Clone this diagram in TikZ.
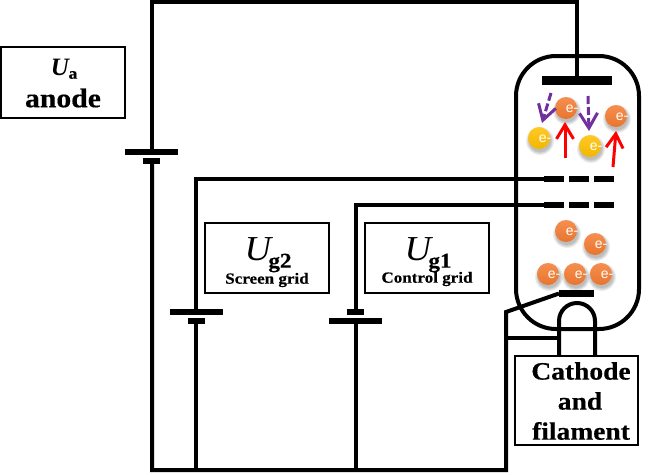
\documentclass[tikz,border=0pt]{standalone}
\usepackage{fontspec}
\setmainfont{Liberation Serif}[BoldFeatures={FakeStretch=1.1,FakeBold=0.4},ItalicFeatures={FakeStretch=1.05}]
\newfontfamily\efont{Liberation Sans}
\usetikzlibrary{arrows.meta}
\definecolor{orangeball}{HTML}{F47B30}
\definecolor{yellowball}{HTML}{FFC000}
\definecolor{purplearrow}{HTML}{7030A0}
\newcommand{\fs}[1]{\fontsize{#1}{#1}\selectfont}
\tikzset{
  x=1pt,y=-1pt,
  wire/.style={draw=black,line width=4pt,line cap=butt,line join=miter},
  plate/.style={fill=black,inner sep=0pt,outer sep=0pt,minimum height=6pt,rectangle},
  longplate/.style={plate,minimum width=53pt},
  shortplate/.style={plate,minimum width=17pt},
  gridbar/.style={plate,minimum width=20pt,minimum height=6pt},
  labelbox/.style={draw=black,line width=2pt,inner sep=0pt,outer sep=0pt,rectangle},
  lab/.style={inner sep=0pt,font=\bfseries,align=center},
  ballshadow/.style={circle,fill=black,opacity=0.07,minimum size=#1,inner sep=0pt},
  redarrow/.style={draw=red,line width=3pt,-{Straight Barb[length=14pt,width=17pt,line width=3pt]}},
  purplearr/.style={draw=purplearrow,line width=3pt,dash pattern=on 8pt off 3pt,-{Straight Barb[length=15pt,width=18pt,line width=3pt]}},
}
\newcommand{\ball}[4]{%
  \foreach \s in {22pt,24pt,26pt,28pt}{\node[ballshadow=\s] at (#1+1,#2+3) {};}
  \node[circle,minimum size=22pt,inner sep=0pt,top color=#3!85!white,bottom color=#3!95!black] (#4) at (#1,#2) {};
  \node[inner sep=0pt,text=white,font=\efont\fs{14}] at (#1+6,#2+1) {e-};
}
\begin{document}
\begin{tikzpicture}
\useasboundingbox[fill=white] (0,0) rectangle (652,474);
% tube
\draw[line width=4pt,rounded corners=40pt] (516,56) rectangle (639,329);
% label boxes
\node[labelbox,minimum width=124pt,minimum height=71pt] (boxa) at (63,82.5) {};
\node[labelbox,minimum width=124pt,minimum height=70pt] (boxg2) at (267,258) {};
\node[labelbox,minimum width=124pt,minimum height=70pt] (boxg1) at (427,258) {};
\node[labelbox,minimum width=123pt,minimum height=89pt,fill=white] (boxc) at (576.5,400) {};
% electrodes
\node[plate,minimum width=70pt,minimum height=9pt] (anode) at (577,80.5) {};
\node[gridbar] (g2a) at (554,179) {};
\node[gridbar] (g2b) at (578.5,179) {};
\node[gridbar] (g2c) at (603.5,179) {};
\node[gridbar] (g1a) at (554,205) {};
\node[gridbar] (g1b) at (578.5,205) {};
\node[gridbar] (g1c) at (603.5,205) {};
\node[plate,minimum width=35pt,minimum height=7pt] (cath) at (576.5,293.5) {};
% batteries
\node[longplate] (ba1) at (151.5,152) {};
\node[shortplate] (ba2) at (151.5,160.5) {};
\node[longplate] (bb1) at (196.5,312) {};
\node[shortplate] (bb2) at (196,321) {};
\node[shortplate] (bc1) at (355.5,312) {};
\node[longplate] (bc2) at (355.5,321) {};
% junctions
\coordinate (tl) at (152,2);
\coordinate (tr) at (577,2);
\coordinate (bl) at (152,470);
\coordinate (br) at (506,470);
\coordinate (bb) at (196,470);
\coordinate (bc) at (356,470);
\coordinate (jd) at (506,312);
\coordinate (jh) at (506,338);
\coordinate (fl) at (559,338);
% wires
\draw[wire] (anode.north -| tr) -- (tr) -- (tl) -- (ba1.north -| tl);
\draw[wire] (ba2.south -| bl) -- (bl) -- (br) -- (jd) -- (cath.west);
\draw[wire] (jh) -- (fl);
\draw[wire] (g2a.west) -- (196,179) -- (bb1.north -| bb);
\draw[wire] (g1a.west) -- (356,205) -- (bc1.north -| bc);
\draw[wire] (bb2.south -| bb) -- (bb);
\draw[wire] (bc2.south -| bc) -- (bc);
% filament
\draw[wire,rounded corners=18pt] (559,355) -- (559,303) -- (595,303) -- (595,355);
% texts
\node[lab,font=\bfseries\itshape\fs{25}] (ua) at (60,67) {U};
\node[lab,font=\bfseries\fs{16}] (uas) at (73,75) {a};
\node[lab,font=\bfseries\fs{27}] (ta) at (63,98) {anode};
\node[lab,font=\itshape\fs{35}] (u2) at (258,249) {U};
\node[lab,font=\bfseries\fs{21}] (u2s) at (280,263) {g2};
\node[lab,font=\bfseries\fs{15.5}] (t2) at (267,280) {Screen grid};
\node[lab,font=\itshape\fs{35}] (u1) at (418,249) {U};
\node[lab,font=\bfseries\fs{21}] (u1s) at (440,263) {g1};
\node[lab,font=\bfseries\fs{15.5}] (t1) at (427,279) {Control grid};
\node[lab,font=\bfseries\fs{25}] (c1) at (581,371) {Cathode};
\node[lab,font=\bfseries\fs{25}] (c2) at (580,401) {and};
\node[lab,font=\bfseries\fs{25}] (c3) at (581,431) {filament};
% electrons
\ball{566}{108}{orangeball}{e1}
\ball{616}{116}{orangeball}{e2}
\ball{539}{138}{yellowball}{e3}
\ball{590}{146}{yellowball}{e4}
\ball{566}{231}{orangeball}{e5}
\ball{595}{244}{orangeball}{e6}
\ball{548}{274}{orangeball}{e7}
\ball{575}{274}{orangeball}{e8}
\ball{601}{274}{orangeball}{e9}
% arrows
\coordinate (ra1) at (565,158); \coordinate (ra2) at (565,122);
\coordinate (rb1) at (613,167); \coordinate (rb2) at (616,131);
\coordinate (pa1) at (551,93);  \coordinate (pa2) at (542,123);
\coordinate (pb1) at (588,96);  \coordinate (pb2) at (589,131);
\draw[redarrow] (ra1) -- (ra2);
\draw[redarrow] (rb1) -- (rb2);
\draw[purplearr] (pa1) -- (pa2);
\draw[purplearr] (pb1) -- (pb2);
\end{tikzpicture}
\end{document}
